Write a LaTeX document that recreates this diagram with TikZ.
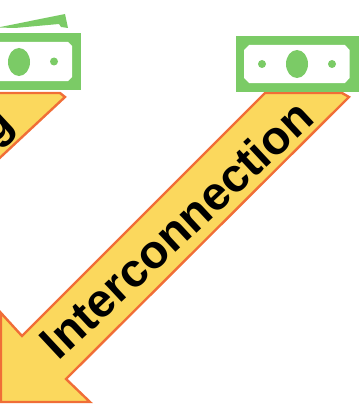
\documentclass[tikz,border=0pt]{standalone}
\usepackage{fontspec}
\setmainfont{Liberation Sans}
\usepackage{xcolor}
\definecolor{billgreen}{RGB}{123, 203, 102}
\definecolor{arrowyellow}{RGB}{251, 216, 93}
\definecolor{arroworange}{RGB}{240, 110, 55}

\begin{document}
\begin{tikzpicture}[
    x=1pt, y=-1pt,
    billpart/.style={fill=billgreen, draw=none},
    billhole/.style={fill=white, draw=none},
    flowarrow/.style={fill=arrowyellow, draw=arroworange, line width=2.4pt, line join=miter},
    flowlabel/.style={font=\fontsize{47}{47}\selectfont\bfseries, inner sep=0pt, rotate=43, text=black}
]
\useasboundingbox (0,0) rectangle (359,404);
\clip (0,0) rectangle (359,404);

% Left arrow
\draw[flowarrow] (-40,195) -- (65,97) -- (60,93) -- (-40,93) -- cycle;
\node[flowlabel] (leftlabel) at (0,130) {g};

% Main arrow
\draw[flowarrow] (265,93) -- (342,93) -- (349,97) -- (66,379) -- (90,402) -- (1,402) -- (1,313) -- (22,336) -- cycle;
\node[flowlabel] (mainlabel) at (176,229) {Interconnection};

% Left bill
\path[billpart] (-2,27.5) -- (65,14) -- (68,28) -- (61,27) -- (59,24) -- (15,28) -- cycle;
\path[billpart] (-2,33) rectangle (80.5,89.5);
\path[billhole] (-2,42) -- (68,42) -- (72,46) -- (72,77) -- (68,81) -- (-2,81) -- cycle;
\path[billpart] (19,62) ellipse [x radius=11, y radius=14];
\path[billpart] (54,61.5) circle [radius=4];

% Right bill
\path[billpart] (236,36) rectangle (359,92);
\path[billhole] (249,45) -- (345,45) -- (349.5,50) -- (349.5,78) -- (345,83) -- (249,83) -- (244,78) -- (244,50) -- cycle;
\path[billpart] (297,64) ellipse [x radius=11, y radius=14];
\path[billpart] (262,64) circle [radius=4];
\path[billpart] (332,64) circle [radius=4];

\end{tikzpicture}
\end{document}
